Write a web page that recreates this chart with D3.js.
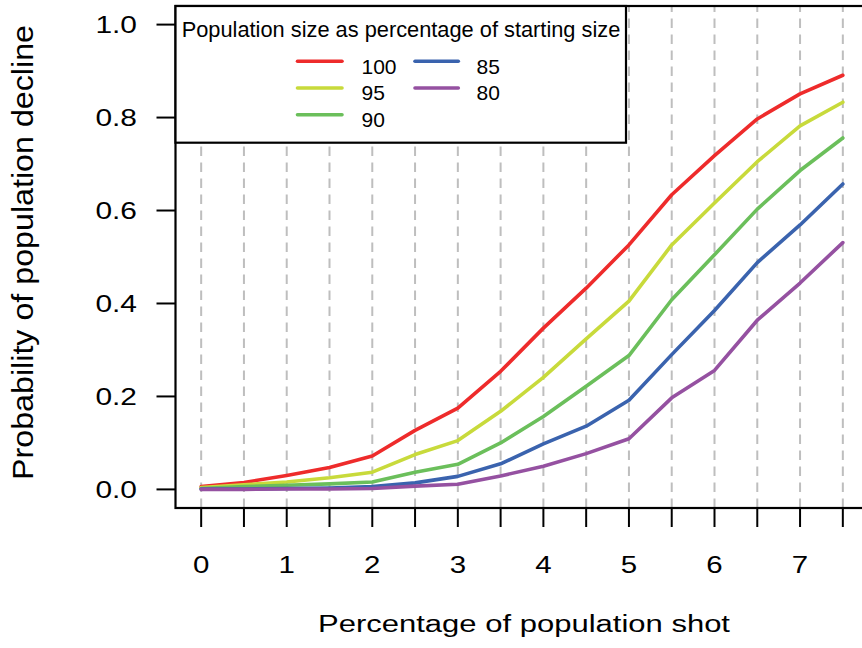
<!DOCTYPE html>
<html>
<head>
<meta charset="utf-8">
<script src="https://cdn.jsdelivr.net/npm/d3@7"></script>
<style>
  html, body { margin: 0; padding: 0; background: #fff; }
  svg { display: block; }
  text { font-family: "Liberation Sans", Arial, Helvetica, sans-serif; fill: #000; }
</style>
</head>
<body>
<svg id="chart" width="862" height="648"></svg>
<script>
// Percentage of population shot (x positions of each observation)
const shotPct = [0, 0.5, 1, 1.5, 2, 2.5, 3, 3.5, 4, 4.5, 5, 5.5, 6, 6.5, 7, 7.5];

// Probability of decline for each population size (% of starting size)
const p100 = [0.006, 0.015, 0.030, 0.047, 0.072, 0.127, 0.175, 0.254, 0.347, 0.433, 0.526, 0.634, 0.718, 0.797, 0.851, 0.891];
const p95  = [0.004, 0.010, 0.016, 0.025, 0.037, 0.075, 0.105, 0.168, 0.241, 0.324, 0.405, 0.526, 0.616, 0.705, 0.782, 0.833];
const p90  = [0.002, 0.006, 0.009, 0.012, 0.016, 0.037, 0.054, 0.100, 0.157, 0.222, 0.288, 0.408, 0.505, 0.603, 0.686, 0.756];
const p85  = [0.001, 0.001, 0.002, 0.003, 0.006, 0.014, 0.028, 0.055, 0.098, 0.136, 0.192, 0.290, 0.385, 0.488, 0.569, 0.657];
const p80  = [0.000, 0.000, 0.001, 0.001, 0.002, 0.007, 0.011, 0.029, 0.050, 0.077, 0.109, 0.197, 0.256, 0.364, 0.444, 0.531];

const seriesLabels = ["100", "95", "90", "85", "80"];
const seriesColors = ["#ee2b2b", "#c8da3b", "#6bbf5b", "#3a63ae", "#9551a1"];
const seriesValues = [p100, p95, p90, p85, p80];

const xTickLabels = [0, 1, 2, 3, 4, 5, 6, 7];
const yTickValues = [0, 0.2, 0.4, 0.6, 0.8, 1.0];

const xTitle = "Percentage of population shot";
const yTitle = "Probability of population decline";
const legendTitle = "Population size as percentage of starting size";

const svg = d3.select("#chart");

// Plot region (data range padded by 4% on each side)
const box = { left: 175.5, right: 868.5, top: 6, bottom: 508 };
const x = d3.scaleLinear().domain([-0.3, 7.8]).range([box.left, box.right]);
const y = d3.scaleLinear().domain([-0.04, 1.04]).range([box.bottom, box.top]);

// Widen text horizontally by factor k
function widen(sel, k) {
  sel.each(function () {
    const w = this.getComputedTextLength();
    d3.select(this).attr("textLength", w * k).attr("lengthAdjust", "spacingAndGlyphs");
  });
}

// Vertical dashed reference lines at every observation
svg.append("g").selectAll("line")
  .data(shotPct).join("line")
  .attr("x1", d => x(d)).attr("x2", d => x(d))
  .attr("y1", box.bottom).attr("y2", box.top)
  .attr("stroke", "#bebebe").attr("stroke-width", 2)
  .attr("stroke-dasharray", "9.5,6.5");

// Series lines
const line = d3.line().x((d, i) => x(shotPct[i])).y(d => y(d));
svg.append("g").selectAll("path")
  .data(seriesValues).join("path")
  .attr("d", d => line(d))
  .attr("fill", "none")
  .attr("stroke", (d, i) => seriesColors[i])
  .attr("stroke-width", 3.6)
  .attr("stroke-linejoin", "round")
  .attr("stroke-linecap", "round");

// Frame around the plot region
svg.append("rect")
  .attr("x", box.left).attr("y", box.top)
  .attr("width", box.right - box.left).attr("height", box.bottom - box.top)
  .attr("fill", "none").attr("stroke", "#000").attr("stroke-width", 2.2);

// X axis: ticks every 0.5, labels on whole numbers
const xAxis = svg.append("g");
xAxis.selectAll("line")
  .data(shotPct).join("line")
  .attr("x1", d => x(d)).attr("x2", d => x(d))
  .attr("y1", box.bottom).attr("y2", box.bottom + 19)
  .attr("stroke", "#000").attr("stroke-width", 2);
xAxis.selectAll("text")
  .data(xTickLabels).join("text")
  .attr("x", d => x(d)).attr("y", 573)
  .attr("text-anchor", "middle")
  .attr("font-size", 23)
  .text(d => d)
  .call(widen, 1.28);

// Y axis
const yAxis = svg.append("g");
yAxis.selectAll("line")
  .data(yTickValues).join("line")
  .attr("x1", box.left - 19).attr("x2", box.left)
  .attr("y1", d => y(d)).attr("y2", d => y(d))
  .attr("stroke", "#000").attr("stroke-width", 2);
yAxis.selectAll("text")
  .data(yTickValues).join("text")
  .attr("x", 137).attr("y", d => y(d) + 8.3)
  .attr("text-anchor", "end")
  .attr("font-size", 23)
  .text(d => d3.format(".1f")(d))
  .call(widen, 1.3);

// Axis titles
svg.append("text")
  .attr("x", 524).attr("y", 632)
  .attr("text-anchor", "middle")
  .attr("font-size", 23)
  .attr("textLength", 412).attr("lengthAdjust", "spacingAndGlyphs")
  .text(xTitle);

svg.append("text")
  .attr("transform", "translate(33,252.5) rotate(-90)")
  .attr("text-anchor", "middle")
  .attr("font-size", 30)
  .attr("textLength", 455).attr("lengthAdjust", "spacingAndGlyphs")
  .text(yTitle);

// Legend
const legend = svg.append("g");
legend.append("rect")
  .attr("x", box.left).attr("y", box.top)
  .attr("width", 626 - box.left).attr("height", 142.7 - box.top)
  .attr("fill", "#fff").attr("stroke", "#000").attr("stroke-width", 2.2);
legend.append("text")
  .attr("x", 401).attr("y", 37.3)
  .attr("text-anchor", "middle")
  .attr("font-size", 21.8)
  .text(legendTitle);

const legendCols = [{ lx1: 297.5, lx2: 342, tx: 361.5 }, { lx1: 415, lx2: 458.3, tx: 476.5 }];
const legendRows = [61.3, 88, 114.7];
const items = seriesLabels.map((lab, i) => {
  const col = i < 3 ? 0 : 1;
  const row = i < 3 ? i : i - 3;
  return { lab, color: seriesColors[i], col: legendCols[col], ry: legendRows[row] };
});
const li = legend.selectAll("g.item").data(items).join("g").attr("class", "item");
li.append("line")
  .attr("x1", d => d.col.lx1).attr("x2", d => d.col.lx2)
  .attr("y1", d => d.ry).attr("y2", d => d.ry)
  .attr("stroke", d => d.color).attr("stroke-width", 3.6)
  .attr("stroke-linecap", "round");
li.append("text")
  .attr("x", d => d.col.tx).attr("y", d => d.ry + 12.2)
  .attr("font-size", 21)
  .text(d => d.lab);
</script>
</body>
</html>
